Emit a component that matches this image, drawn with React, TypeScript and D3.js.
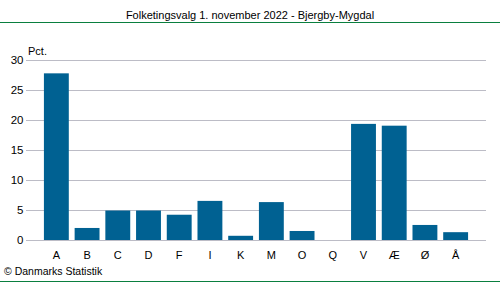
import React from "react";
import * as d3 from "d3";

const categories = ["A", "B", "C", "D", "F", "I", "K", "M", "O", "Q", "V", "Æ", "Ø", "Å"];
const values = [27.7, 2.0, 4.9, 4.9, 4.2, 6.5, 0.7, 6.3, 1.5, 0, 19.3, 19.0, 2.5, 1.3];
const yTicks = [0, 5, 10, 15, 20, 25, 30];
const title = "Folketingsvalg 1. november 2022 - Bjergby-Mygdal";

export default function App() {
  const W = 500, H = 282;
  const gridLeft = 26, gridRight = 486;
  const y = d3.scaleLinear().domain([0, 30]).range([240, 59.5]);
  const x = d3.scaleBand<string>().domain(categories).range([41, 471]).paddingInner(0.19).paddingOuter(0.095);
  const font = "'Liberation Sans', Arial, sans-serif";
  return (
    <svg width={W} height={H} style={{ position: "absolute", left: 0, top: 0, background: "#fff" }} fontFamily={font}>
      <text x={250} y={19} textAnchor="middle" fontSize={11} fill="#000">{title}</text>
      <line x1={0} x2={W} y1={22.5} y2={22.5} stroke="#0a7f3f" strokeWidth={1} />
      {yTicks.map((t) => (
        <g key={t}>
          <line x1={gridLeft} x2={gridRight} y1={Math.round(y(t)) + 0.5} y2={Math.round(y(t)) + 0.5} stroke="#bcbcc6" strokeWidth={1} />
          <text x={23.5} y={y(t) + 4} textAnchor="end" fontSize={11.5} fill="#000">{t}</text>
        </g>
      ))}
      <text x={28} y={55} fontSize={11} fill="#000">Pct.</text>
      {categories.map((c, i) => (
        <rect key={c} x={x(c)} width={x.bandwidth()} y={y(values[i])} height={y(0) - y(values[i])} fill="#006192" />
      ))}
      {categories.map((c) => (
        <text key={c} x={(x(c) as number) + x.bandwidth() / 2} y={259} textAnchor="middle" fontSize={11} fill="#000">{c}</text>
      ))}
      <text x={4} y={275} fontSize={10.5} fill="#000">© Danmarks Statistik</text>
      <line x1={0} x2={W} y1={281.5} y2={281.5} stroke="#0a7f3f" strokeWidth={1} />
    </svg>
  );
}
